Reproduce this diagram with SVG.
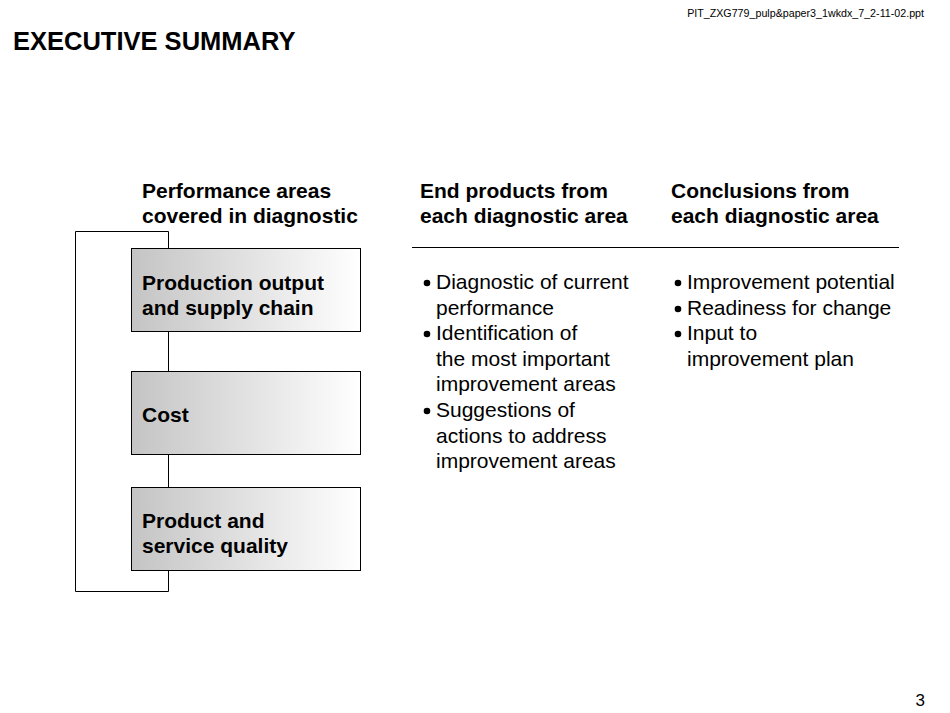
<svg xmlns="http://www.w3.org/2000/svg" width="950" height="713" viewBox="0 0 950 713">
<style>
text{font-family:"Liberation Sans",Arial,sans-serif;fill:#000}
.h{font-size:21px;font-weight:bold}
.b{font-size:21px}
.box{fill:url(#g);stroke:#000;stroke-width:1}
.ln{stroke:#000;stroke-width:1;fill:none}
</style>
<defs><linearGradient id="g" x1="0" x2="1" y1="0" y2="0"><stop offset="0" stop-color="#c4c4c4"/><stop offset="1" stop-color="#fff"/></linearGradient></defs>
<rect width="950" height="713" fill="#fff"/>
<text x="924" y="17" font-size="10.7" text-anchor="end">PIT_ZXG779_pulp&amp;paper3_1wkdx_7_2-11-02.ppt</text>
<text x="13" y="50" font-size="25.5" font-weight="bold">EXECUTIVE SUMMARY</text>
<text class="h" x="142" y="198">Performance areas</text>
<text class="h" x="142" y="223">covered in diagnostic</text>
<text class="h" x="420" y="198">End products from</text>
<text class="h" x="420" y="223">each diagnostic area</text>
<text class="h" x="671" y="198">Conclusions from</text>
<text class="h" x="671" y="223">each diagnostic area</text>
<g id="connectors">
<path class="ln" d="M168.5,248 V231.5 H75.5 V591.5 H168.5 V571"/>
<path class="ln" d="M168.5,332 V371 M168.5,455 V487"/>
<line class="ln" x1="412" y1="247.5" x2="899" y2="247.5"/>
</g>
<g id="n1"><rect class="box" x="131.5" y="248.5" width="229" height="83"/>
<text class="h" x="142" y="290">Production output</text><text class="h" x="142" y="315">and supply chain</text></g>
<g id="n2"><rect class="box" x="131.5" y="371.5" width="229" height="83"/>
<text class="h" x="142" y="422">Cost</text></g>
<g id="n3"><rect class="box" x="131.5" y="487.5" width="229" height="83"/>
<text class="h" x="142" y="528">Product and</text><text class="h" x="142" y="553">service quality</text></g>
<g id="end">
<circle cx="427" cy="283" r="3.3"/><text class="b" x="436" y="289">Diagnostic of current</text>
<text class="b" x="436" y="315">performance</text>
<circle cx="427" cy="334" r="3.3"/><text class="b" x="436" y="340">Identification of</text>
<text class="b" x="436" y="366">the most important</text>
<text class="b" x="436" y="391">improvement areas</text>
<circle cx="427" cy="411" r="3.3"/><text class="b" x="436" y="417">Suggestions of</text>
<text class="b" x="436" y="443">actions to address</text>
<text class="b" x="436" y="468">improvement areas</text>
</g>
<g id="concl">
<circle cx="678" cy="283" r="3.3"/><text class="b" x="687" y="289">Improvement potential</text>
<circle cx="678" cy="309" r="3.3"/><text class="b" x="687" y="315">Readiness for change</text>
<circle cx="678" cy="334" r="3.3"/><text class="b" x="687" y="340">Input to</text>
<text class="b" x="687" y="366">improvement plan</text>
</g>
<text x="925" y="706" font-size="17" text-anchor="end">3</text>
</svg>
